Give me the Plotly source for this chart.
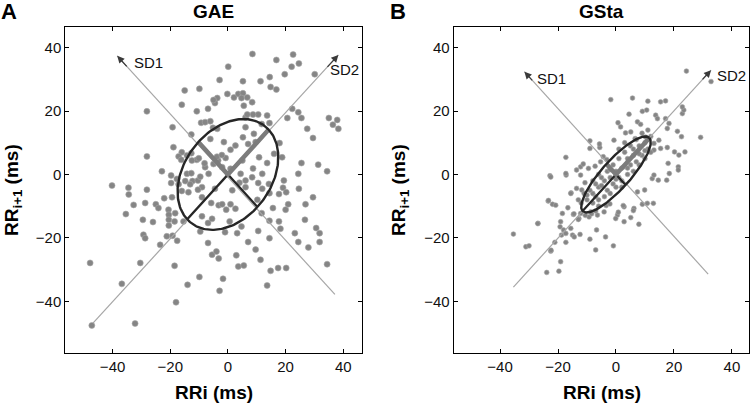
import math
import plotly.graph_objects as go

# ---------------- data ----------------
gae_points = [
    (8.5,38),(22.6,37.8),(16.8,36.1),(24.6,35),(22.1,34),(0.1,34),(14.5,30.7),(11.3,29.4),(19.7,31.6),(30.1,31.6),
    (-2.9,29.8),(5.2,29.4),(14.8,27.6),(16.8,26.8),(-15,26.5),(-9.9,27),(-0.2,25.4),(2.1,24.3),(3.6,25.4),(5.2,25.6),
    (4.7,24.1),(6.7,24.3),(-3.7,24.1),(-4.5,22.5),(5.5,21.7),(8.4,22.8),(-16,22),(-10.8,19.9),(-6.9,20.7),(-28.1,19.9),
    (-5,23.5),(-9.3,16.3),(-7.9,16.5),(-6.1,16.8),(10.5,18.9),(8.7,18.9),(6.1,18),(6.7,18.9),(13.6,18.6),(14.4,16.2),
    (11.7,15.9),(22.3,20.7),(20.6,17.8),(24.4,19.6),(25.5,17.8),(35,17.8),(36.4,15.7),(37.9,17.2),(38.3,14.4),(27.5,14.4),
    (29.5,11.5),(-19.2,14.9),(-12.7,12.6),(-6.1,11.2),(-5.2,14.7),(-3.7,14.4),(-1.4,10.2),(0.9,7.8),(2.6,9.1),(5.2,11.7),
    (6.1,14.9),(9,12.8),(9.6,10.2),(7,9.6),(17.9,9.9),(16,6.5),(18.8,5.4),(10.8,5.4),(13.6,3.6),(11.9,0.2),
    (14.2,-3),(25.5,3.6),(24.4,0.2),(31.3,3.1),(34.4,1),(19.4,-1.9),(19.1,-4.2),(24.6,-4.5),
    (-18.9,8.6),(-16,7),(-17.1,5.7),(-14.2,6),(-12.7,6.7),(-10.8,4.6),(-16.2,4.6),(-12.5,4.4),(-28.1,5.7),(-22.9,1),
    (-19.7,-0.3),(-17.7,-1.4),(-19.7,-2.7),(-17.1,-3.1),(-14.8,-2.1),(-14.2,0.2),(-12.7,0.4),(-12.3,-2.1),(-10.4,-1.9),(-13.1,-3.1),
    (-9,-4),(-6.7,0.2),(-7.9,2.3),(-40.2,-3.5),(-34.5,-4.2),(-28.1,-4.8),(-34.4,-6.3),
    (-0.8,5.2),(-3.4,4.4),(-2,2.3),(0.9,1.8),(5,4.4),(4.4,0.2),(6.1,-1.9),(8.4,-0.9),(10.5,-2.7),(11.9,-4.5),
    (6.1,-4),(-5,3.3),(-3.8,5.6),(-8.1,3.5),(-10.1,5.1),(-2.1,6.1),(-9.6,-0.7),(-4.5,-4.5),(1.5,-5),(8.7,1.9),(4,-2.6),
    (-32.7,-9.6),(-28.7,-9),(-25,-9.4),(-24.1,-10.6),(-22.1,-7.5),(-19.4,-7.2),(-20.6,-11.1),(-18.3,-12.2),(-20.5,-12.7),(-20.5,-14.3),
    (-20.5,-16.1),(-29.5,-14.3),(-35.4,-12.5),(-26,-15),(-18.5,-14.8),(-15.4,-14.8),(-29.3,-19),(-28.7,-20.1),(-21.2,-19.5),(-19.2,-19.3),
    (-17.6,-20.9),(-23.5,-22.2),(-47.8,-27.9),(-30.4,-27.9),(-18.5,-28.8),(-36.8,-34.5),(-9.9,-32.3),(-14,-34.8),(-18,-40.3),(-32.2,-47),
    (-47.2,-47.6),(-9,-13.2),(-6.9,-15.3),(-9.6,-18),(-6.9,-21.6),(-5.5,-25.3),(-5.5,-14),(-13.7,-5.6),(-16,-5.2),(-10.4,-4.8),
    (-9,-7.2),(-5.8,-9),
    (-3.2,-9.7),(-2,-9.4),(0.9,-9.4),(-0.6,-11.1),(2.6,-10.8),(-4,-24.3),(-3.2,-26.5),(-1.7,-32.9),(-2.9,-36.7),(0.6,-14.8),
    (-1,-18.2),(3.2,-18.5),(4.7,-16.4),(2.9,-25.5),(3.6,-29),(5.5,-28.7),
    (7,-21.3),(9.6,-23.7),(10.5,-17.8),(11.3,-26.9),(14.8,-30.4),(14.4,-20.1),(13.6,-35),(17.4,-29.5),(20.2,-29.5),(18.2,-17.1),
    (15.6,-10.6),(14.4,-14.6),(17.7,-14.8),(11.7,-12.2),(10.2,-8),(20,-11.1),(20.9,-9.4),(14.4,-5.9),(17.7,-6.2),(20.2,-5.6),
    (29.5,-7.2),(26.9,-9.4),(23.2,-18.5),(24.4,-21.3),(27.9,-23),(26.7,-14.3),(30.6,-16.9),(31.8,-18.5),(31.8,-21.3),(34.4,-28.3),
]

gsta_points = [
    (24.3,32.6),(32.8,29.3),(-1.8,23.6),(5.7,24.1),(11,23.1),(15.4,22.9),(17.1,23.2),(4.5,19),(9.1,19.9),(10.6,20.3),
    (7.4,16.6),(8.5,15.8),(0.7,16.3),(1.6,15),(13.7,18.7),(14.3,17.6),(17.1,17.6),(18.3,16.1),(17.7,14.5),(22.9,19.2),
    (23.4,20.3),(22.9,21.3),(21.2,13.6),(-9,10.6),(-5.6,8.5),(-0.7,10.8),(3.3,13.1),(5.1,13.4),(6.6,11.3),(10.2,11.8),
    (13.1,9.8),(14.8,10.8),(15.4,8.2),(13.1,7.7),(17.7,8.5),(20.2,7.1),(21.7,6.1),(23.8,7.1),(-17.3,5.4),(-12.2,2.4),
    (29.2,11.7),(22.6,11.9),(18,3.5),(21.5,2.4),(17.5,-1.8),(21.5,1.4),(18.4,0.3),(14.6,-1.8),(-22.8,-0.4),(-17.2,-0.2),
    (-15.5,-5.8),(-13.6,-4.4),(-11.8,-4.9),(-10.7,-2.6),(-9,8.2),(-5.7,9.6),(-11.3,3.3),(-9.5,1.9),(-7.2,2.6),(-4.4,5.6),
    (-3.2,4.7),(-5.3,4),
    (-8,-6),(-6,-4),(-4,-2),(-2,-1),(0,1),(2,2),(4,5),(6,6),(8,9),(10,10),
    (-6,-8),(-3,-5),(-1,-3),(1,-1),(3,2.5),(5,3),(7,4),(9,6),(11,8),(3,7),
    (1,5),(-1,3),(-3,1),(-5,-1),(-7,-3),(-9,-5),(5,9),(7,11),(9,13),(11,14),
    (12,12),(0,-4),(2,-2),(4,0),(6,1),(8,3),(10,5),(12,7),(-10,-8),(-12,-9),
    (-8,-9),(-11,-6),(-13,-8),(-2,-6),(-4,-7),(-6,-10),(-8,-2),(-6,0),(-10,-6.5),(-7,-7),
    (-5,-3.5),(1,8),(3,10),(6,8),(8,6.5),(10,7.5),(4,2),(-2,1.5),(0,-1.5),(2,-4),
    (-22.5,-0.8),(-17.3,0.3),(-13.6,1.4),(-12.2,-0.2),(-15.6,-6),(-23.4,-8.4),(-21.9,-9.4),(-20.8,-9.7),(-16.6,-10.5),(-18.5,-12.3),
    (-14.7,-12.6),(-12.2,-12.3),(-26.9,-15.4),(-19.1,-14.9),(-19.3,-16.5),(-18.1,-17.5),(-18.8,-19.1),(-17.3,-18.6),(-15.6,-17),(-15,-19.1),
    (-12.4,-18.9),(-12.8,-13.9),(-9.3,-13.4),(-8.7,-11.8),(-6.4,-12.8),(-4.1,-11.8),(-35.4,-18.8),(-31.1,-22.8),(-30,-22.5),(-21.1,-21.4),
    (-22.5,-24.2),(-17.3,-21.4),(-9,-20.4),(-6.7,-17.5),(-3.6,-19.7),(-7,-23.8),(-0.9,-22.5),(-19.1,-27.5),(-19.7,-30.5),(-23.9,-30.9),
    (2.8,-14.9),(7.9,-15.7),(6.2,-10.7),(9.1,-9.4),(10.8,-9.1),(12.9,-9.1),(2.8,-10.2),(0.5,-12.8),(-0.1,-13.9),(7.4,-5.5),
    (9.9,-4.9),(12.5,-1.3),(13.1,-0.2),
    (-27,-15.5),(-22.4,-23.9),(-14.4,-19.7),(5.1,-13.6),(6,-11.4),(0.8,-11.9),(2.5,-9.8),(-23.3,-8.2),(-14.5,-12.4),(-13,-14.2),
    (-10.6,-12.9),(-8.4,-12.4),(-7,-11.5),(-3.4,-9.8),(-2.1,-9.3),
]

gae_sd = {"center": (0.0, 0.0), "sd1": 14.5, "sd2": 20.0}
gsta_sd = {"center": (0.0, 0.0), "sd1": 4.7, "sd2": 16.3}

# SD axis lines (start, end) ; arrow tip is the upper end
gae_sd1_line = [(37.1, -37.8), (-38.4, 37.4)]
gae_sd2_line = [(-46.8, -46.9), (38.3, 37.7)]
gsta_sd1_line = [(31.8, -31.4), (-31.6, 32.4)]
gsta_sd2_line = [(-35.4, -35.5), (32.8, 32.9)]

gae_labels = [("SD1", -27.6, 35.2), ("SD2", 40.3, 33.0)]
gsta_labels = [("SD1", -22.4, 30.2), ("SD2", 39.8, 31.3)]

tick_vals = [-40, -20, 0, 20, 40]
panel_titles = ["GAE", "GSta"]
panel_letters = ["A", "B"]
x_title = "RRi (ms)"
y_title = "RR<sub>i+1</sub> (ms)"

# ---------------- figure ----------------
W, H = 752, 405


def px(x):
    return x / W


def py(y):
    return 1 - y / H


fig = go.Figure()
FONT = "Liberation Sans, Arial, sans-serif"
POINT_COLOR = "#858585"


def add_panel(points, sd, sd1_line, sd2_line, labels, xa, ya, msize):
    xs = [p[0] for p in points]
    ys = [p[1] for p in points]
    fig.add_trace(go.Scatter(x=xs, y=ys, mode="markers", xaxis=xa, yaxis=ya,
                             marker=dict(size=msize, color=POINT_COLOR,
                                         line=dict(width=0.6, color="#a8a8a8")),
                             showlegend=False, hoverinfo="skip"))
    for ln in (sd1_line, sd2_line):
        fig.add_trace(go.Scatter(x=[ln[0][0], ln[1][0]], y=[ln[0][1], ln[1][1]],
                                 mode="lines", xaxis=xa, yaxis=ya,
                                 line=dict(color="#a6a6a6", width=1.2),
                                 showlegend=False, hoverinfo="skip"))
        tx, ty = ln[1]
        bx = tx - 0.05 * (ln[1][0] - ln[0][0])
        by = ty - 0.05 * (ln[1][1] - ln[0][1])
        fig.add_annotation(x=tx, y=ty, ax=bx, ay=by, xref=xa, yref=ya,
                           axref=xa, ayref=ya, text="", showarrow=True,
                           arrowhead=2, arrowsize=1.2, arrowwidth=1.2,
                           arrowcolor="#3a3a3a", standoff=0)
    cx, cy = sd["center"]
    s1, s2 = sd["sd1"], sd["sd2"]
    r = 1 / math.sqrt(2)
    n = 200
    ex, ey = [], []
    for i in range(n + 1):
        t = 2 * math.pi * i / n
        a = s2 * math.cos(t)
        b = s1 * math.sin(t)
        ex.append(cx + (a - b) * r)
        ey.append(cy + (a + b) * r)
    fig.add_trace(go.Scatter(x=[cx - s2 * r, cx, cx + s1 * r], y=[cy - s2 * r, cy, cy - s1 * r],
                             mode="lines", xaxis=xa, yaxis=ya,
                             line=dict(color="#262626", width=2.2),
                             showlegend=False, hoverinfo="skip"))
    fig.add_trace(go.Scatter(x=[cx - s1 * r, cx, cx + s2 * r], y=[cy + s1 * r, cy, cy + s2 * r],
                             mode="lines", xaxis=xa, yaxis=ya,
                             line=dict(color="#7c7c7c", width=4.5),
                             showlegend=False, hoverinfo="skip"))
    fig.add_trace(go.Scatter(x=ex, y=ey, mode="lines", xaxis=xa, yaxis=ya,
                             line=dict(color="#262626", width=2.4),
                             showlegend=False, hoverinfo="skip"))
    for txt, lx, ly in labels:
        fig.add_annotation(x=lx, y=ly, xref=xa, yref=ya, text=txt, showarrow=False,
                           xanchor="center", yanchor="middle",
                           font=dict(family=FONT, size=15, color="#111"))


add_panel(gae_points, gae_sd, gae_sd1_line, gae_sd2_line, gae_labels, "x", "y", 6)
add_panel(gsta_points, gsta_sd, gsta_sd1_line, gsta_sd2_line, gsta_labels, "x2", "y2", 4.8)

axis_common = dict(showline=True, linecolor="black", linewidth=1, mirror="ticks",
                   ticks="inside", ticklen=4, tickcolor="black", tickwidth=1,
                   tickvals=tick_vals, showgrid=False, zeroline=False,
                   tickfont=dict(family=FONT, size=15, color="#111"))

ydom = [py(353), py(27)]
fig.update_layout(
    width=W, height=H, margin=dict(l=0, r=0, t=0, b=0),
    paper_bgcolor="white", plot_bgcolor="white", showlegend=False,
    xaxis=dict(domain=[px(65.3), px(362.3)], range=[-56.4, 46.6], anchor="y", **axis_common),
    yaxis=dict(domain=ydom, range=[-56.3, 46.5], anchor="x", **axis_common),
    xaxis2=dict(domain=[px(453.7), px(749.3)], range=[-56.0, 46.0], anchor="y2", **axis_common),
    yaxis2=dict(domain=ydom, range=[-56.3, 46.5], anchor="x2", **axis_common),
)

bold = lambda s: "<b>" + s + "</b>"
centers = [213.8, 601.5]
for i in range(2):
    fig.add_annotation(x=px(centers[i]), y=py(11.7), xref="paper", yref="paper", text=bold(panel_titles[i]),
                       showarrow=False, xanchor="center", yanchor="middle",
                       font=dict(family=FONT, size=19, color="black"))
    fig.add_annotation(x=px(centers[i]), y=py(392), xref="paper", yref="paper", text=bold(x_title),
                       showarrow=False, xanchor="center", yanchor="middle",
                       font=dict(family=FONT, size=19, color="black"))
letter_pos = [(9.0, 11.5), (398, 11.7)]
for i in range(2):
    fig.add_annotation(x=px(letter_pos[i][0]), y=py(letter_pos[i][1]), xref="paper", yref="paper",
                       text=bold(panel_letters[i]), showarrow=False, xanchor="center", yanchor="middle",
                       font=dict(family=FONT, size=22, color="black"))
ytitle_x = [13, 400]
for i in range(2):
    fig.add_annotation(x=px(ytitle_x[i]), y=py(190), xref="paper", yref="paper",
                       text=bold(y_title), textangle=-90, showarrow=False,
                       xanchor="center", yanchor="middle",
                       font=dict(family=FONT, size=19, color="black"))

# remove the default 8 px page margin so the figure fills the window exactly
fig.write_html("out.html", config={"displayModeBar": False},
               post_script="document.body.style.margin='0';document.body.style.overflow='hidden';")
